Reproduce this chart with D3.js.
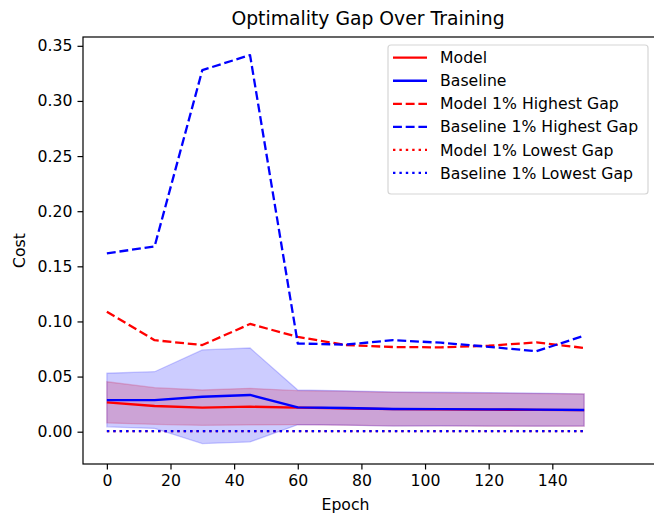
<!DOCTYPE html>
<html>
<head>
<meta charset="utf-8">
<script src="https://cdn.jsdelivr.net/npm/d3@7"></script>
<style>
  body { margin: 0; background: #fff; }
  text { font-family: "DejaVu Sans", sans-serif; fill: #000; }
</style>
</head>
<body>
<svg id="chart" width="654" height="517"></svg>
<script>
// epochs
const epochs = [0, 15, 30, 45, 60, 75, 90, 105, 120, 135, 150];

// mean gap and spread
const modelMean = [0.0266, 0.0233, 0.0218, 0.0227, 0.0218, 0.0212, 0.0205, 0.0203, 0.0200, 0.0198, 0.0196];
const modelStd = [0.0187, 0.0166, 0.0160, 0.0166, 0.0154, 0.0153, 0.0152, 0.0150, 0.0150, 0.0148, 0.0146];
const baselineMean = [0.0287, 0.0287, 0.0317, 0.0333, 0.0221, 0.0215, 0.0206, 0.0205, 0.0203, 0.0200, 0.0197];
const baselineStd = [0.0243, 0.0257, 0.0425, 0.0426, 0.0157, 0.0156, 0.0155, 0.0153, 0.0152, 0.0150, 0.0146];

// 1% highest / lowest gap
const modelHigh = [0.1088, 0.0830, 0.0786, 0.0977, 0.0860, 0.0786, 0.0768, 0.0765, 0.0780, 0.0810, 0.0760];
const baselineHigh = [0.1618, 0.1680, 0.3280, 0.3416, 0.0800, 0.0790, 0.0830, 0.0807, 0.0770, 0.0730, 0.0870];
const modelLow = [0.0006, 0.0006, 0.0006, 0.0006, 0.0006, 0.0006, 0.0006, 0.0006, 0.0006, 0.0006, 0.0006];
const baselineLow = [0.0006, 0.0006, 0.0006, 0.0006, 0.0006, 0.0006, 0.0006, 0.0006, 0.0006, 0.0006, 0.0006];

const xTicks = [0, 20, 40, 60, 80, 100, 120, 140];
const yTicks = [0.00, 0.05, 0.10, 0.15, 0.20, 0.25, 0.30, 0.35];

const legendItems = [
    { label: "Model", color: "red", dash: null },
    { label: "Baseline", color: "blue", dash: null },
    { label: "Model 1% Highest Gap", color: "red", dash: "8.9,3.8" },
    { label: "Baseline 1% Highest Gap", color: "blue", dash: "8.9,3.8" },
    { label: "Model 1% Lowest Gap", color: "red", dash: "2.4,4" },
    { label: "Baseline 1% Lowest Gap", color: "blue", dash: "2.4,4" },
];

const svg = d3.select("#chart");
const plotLeft = 83, plotRight = 657, plotTop = 37, plotBottom = 464;
const fontSize = 15.7;
const lw = 2.3;

const x = d3.scaleLinear().domain([-7.5, 172.9]).range([plotLeft, plotRight]);
const y = d3.scaleLinear().domain([-0.0293, 0.358]).range([plotBottom, plotTop]);

const plot = svg.append("g");

// bands
function band(mean, std, color) {
    const area = d3.area()
        .x((d, i) => x(epochs[i]))
        .y0((d, i) => y(mean[i] - std[i]))
        .y1((d, i) => y(mean[i] + std[i]));
    plot.append("path")
        .attr("d", area(mean))
        .attr("fill", color)
        .attr("fill-opacity", 0.2)
        .attr("stroke", color)
        .attr("stroke-opacity", 0.2)
        .attr("stroke-width", 1.3);
}
band(modelMean, modelStd, "red");
band(baselineMean, baselineStd, "blue");

const line = d3.line().x((d, i) => x(epochs[i])).y(d => y(d));

function drawLine(values, color, dash) {
    plot.append("path")
        .attr("d", line(values))
        .attr("fill", "none")
        .attr("stroke", color)
        .attr("stroke-width", lw)
        .attr("stroke-dasharray", dash)
        .attr("stroke-linejoin", "round");
}
drawLine(modelMean, "red", null);
drawLine(baselineMean, "blue", null);
drawLine(modelHigh, "red", "8.9,3.8");
drawLine(baselineHigh, "blue", "8.9,3.8");
drawLine(modelLow, "red", "2.4,4");
drawLine(baselineLow, "blue", "2.4,4");

// axes
const xAxis = svg.append("g")
    .attr("transform", `translate(0,${plotBottom})`)
    .call(d3.axisBottom(x).tickValues(xTicks).tickSize(5.5).tickPadding(5).tickFormat(d3.format("d")));
const yAxis = svg.append("g")
    .attr("transform", `translate(${plotLeft},0)`)
    .call(d3.axisLeft(y).tickValues(yTicks).tickSize(5.5).tickPadding(5).tickFormat(d3.format(".2f")));
[xAxis, yAxis].forEach(a => {
    a.select(".domain").remove();
    a.selectAll("line").attr("stroke", "#000").attr("stroke-width", 1.2);
    a.selectAll("text").style("font-size", fontSize + "px").style("font-family", "DejaVu Sans").attr("fill", "#000");
});

// frame
svg.append("rect")
    .attr("x", plotLeft).attr("y", plotTop)
    .attr("width", plotRight - plotLeft).attr("height", plotBottom - plotTop)
    .attr("fill", "none").attr("stroke", "#000").attr("stroke-width", 1.2);

// labels
svg.append("text")
    .attr("x", 368).attr("y", 25)
    .attr("text-anchor", "middle")
    .style("font-size", "18.8px")
    .text("Optimality Gap Over Training");
svg.append("text")
    .attr("x", x(75)).attr("y", 510)
    .attr("text-anchor", "middle")
    .style("font-size", fontSize + "px")
    .text("Epoch");
svg.append("text")
    .attr("transform", `translate(25,${(plotTop + plotBottom) / 2}) rotate(-90)`)
    .attr("text-anchor", "middle")
    .style("font-size", fontSize + "px")
    .text("Cost");

// legend
const lg = svg.append("g");
lg.append("rect")
    .attr("x", 388).attr("y", 45).attr("width", 260).attr("height", 149)
    .attr("rx", 3).attr("fill", "#fff").attr("fill-opacity", 0.8)
    .attr("stroke", "#d6d6d6").attr("stroke-width", 1.2);
legendItems.forEach((d, i) => {
    const cy = 57.7 + i * 23.05;
    lg.append("line")
        .attr("x1", 393).attr("x2", 427).attr("y1", cy).attr("y2", cy)
        .attr("stroke", d.color).attr("stroke-width", lw)
        .attr("stroke-dasharray", d.dash);
    lg.append("text")
        .attr("x", 440).attr("y", cy + 5.6)
        .style("font-size", fontSize + "px")
        .text(d.label);
});
</script>
</body>
</html>
